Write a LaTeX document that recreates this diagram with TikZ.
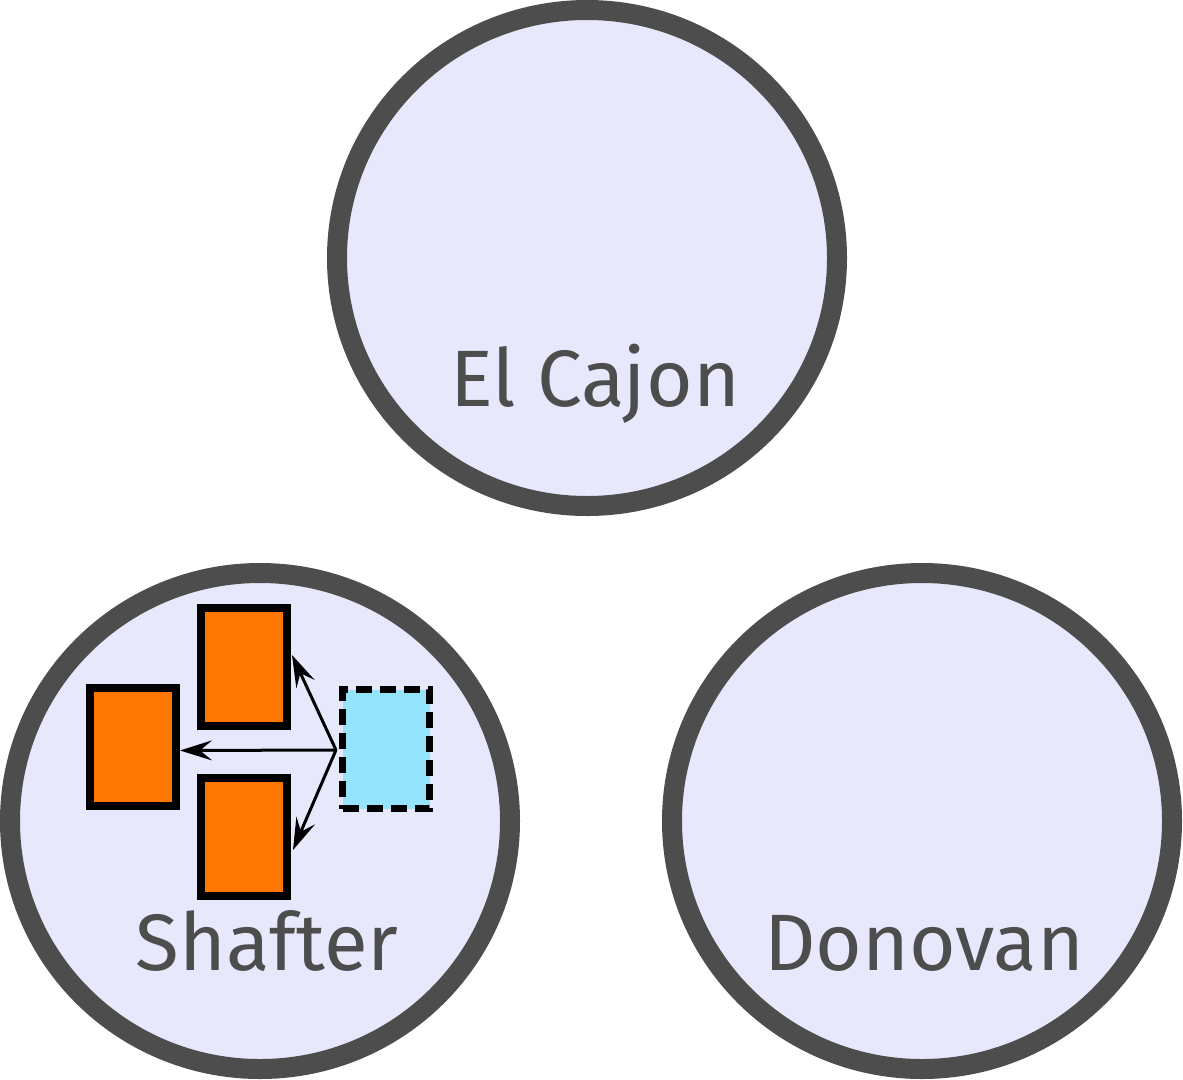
\documentclass[tikz,border=0pt]{standalone}
\usepackage{fontspec}
\setmainfont{Fira Sans}
\usetikzlibrary{arrows.meta}
\definecolor{ringgray}{HTML}{4D4D4D}
\definecolor{ringfill}{HTML}{E8E8FC}
\definecolor{boxorange}{HTML}{FF7700}
\definecolor{boxcyan}{HTML}{94E4FE}
\tikzset{
  region/.style={draw=ringgray, fill=ringfill, line width=20pt},
  label/.style={text=ringgray, font=\fontsize{80}{90}\selectfont, anchor=base, inner sep=0pt},
  obox/.style={draw=black, fill=boxorange, line width=8pt, minimum width=86pt, minimum height=118pt, inner sep=0pt},
  cbox/.style={draw=black, fill=boxcyan, line width=7pt, dash pattern=on 16pt off 8pt, minimum width=87pt, minimum height=119pt, inner sep=0pt},
  link/.style={draw=black, line width=3pt, -{Stealth[length=32pt,width=20pt,inset=12pt]}}
}
\begin{document}
\begin{tikzpicture}[x=1pt,y=-1pt]
\useasboundingbox (0,0) rectangle (1183,1079);
\draw[region] (587,258) ellipse [x radius=250, y radius=248];
\draw[region] (260,821) ellipse [x radius=250, y radius=248];
\draw[region] (922,821) ellipse [x radius=250, y radius=248];
\node[label] (elcajon) at (595,406) {El Cajon};
\node[label] (shafter) at (267,970) {Shafter};
\node[label] (donovan) at (924,970) {Donovan};
\node[obox] (top) at (244,667) {};
\node[obox] (left) at (133,746.5) {};
\node[obox] (bottom) at (244,837) {};
\node[cbox] (src) at (386,749) {};
\coordinate (o) at (336,750);
\draw[link] (o) -- ([yshift=12pt,xshift=1pt]top.east);
\draw[link] (o) -- ([yshift=-4pt]left.east);
\draw[link] (o) -- ([yshift=-13pt,xshift=2pt]bottom.east);
\end{tikzpicture}
\end{document}
